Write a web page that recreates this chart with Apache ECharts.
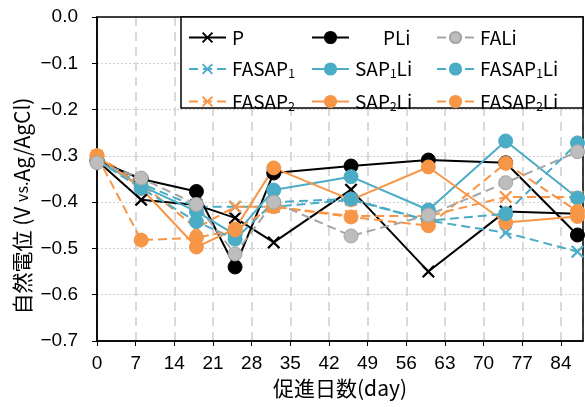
<!DOCTYPE html>
<html>
<head>
<meta charset="utf-8">
<script src="https://cdn.jsdelivr.net/npm/echarts@6/dist/echarts.min.js"></script>
<style>
  html, body { margin: 0; padding: 0; background: #fff; }
  #chart { width: 585px; height: 407px; }
</style>
</head>
<body>
<div id="chart"></div>
<script>
// Measurement days and natural potential readings (V vs. Ag/AgCl)
const days = [0, 8, 18, 25, 32, 46, 60, 74, 87];
const P        = [-0.31, -0.395, -0.406, -0.434, -0.487, -0.373, -0.55, -0.42, -0.425];
const FASAP1   = [-0.31, -0.36, -0.41, -0.41, -0.41, -0.395, -0.44, -0.466, -0.507];
const FASAP2   = [-0.30, -0.36, -0.456, -0.41, -0.41, -0.43, -0.43, -0.389, -0.389];
const PLi      = [-0.31, -0.35, -0.377, -0.54, -0.337, -0.322, -0.309, -0.315, -0.471];
const SAP1Li   = [-0.31, -0.365, -0.42, -0.47, -0.374, -0.345, -0.417, -0.268, -0.391];
const SAP2Li   = [-0.30, -0.37, -0.497, -0.458, -0.326, -0.395, -0.324, -0.444, -0.431];
const FALi     = [-0.315, -0.348, -0.405, -0.512, -0.40, -0.473, -0.428, -0.358, -0.291];
const FASAP1Li = [-0.31, -0.37, -0.442, -0.48, -0.40, -0.393, -0.44, -0.425, -0.272];
const FASAP2Li = [-0.30, -0.482, -0.477, -0.46, -0.41, -0.432, -0.451, -0.316, -0.42];

const xTicks = [0, 7, 14, 21, 28, 35, 42, 49, 56, 63, 70, 77, 84];
const yTicks = [0, -0.1, -0.2, -0.3, -0.4, -0.5, -0.6, -0.7];

const BLACK = '#000000', BLUE = '#4BACC6', ORANGE = '#F79646', GRAY = '#A5A5A5', GRAYFILL = '#BDBDBD';
const CROSS = 'path://M0,12L12,0L50,38L88,0L100,12L62,50L100,88L88,100L50,62L12,100L0,88L38,50Z';
const FONT = '"Noto Sans CJK JP", "Noto Sans", sans-serif';

function pairs(vals) { return days.map((d, i) => [d, vals[i]]); }

function mk(name, vals, color, dashed, marker, fill) {
  const isCross = marker === 'cross';
  return {
    name: name,
    type: 'line',
    data: pairs(vals),
    symbol: isCross ? CROSS : 'circle',
    symbolSize: isCross ? 13 : 14,
    showSymbol: true,
    z: 3,
    lineStyle: { color: color, width: 2, type: dashed ? [9, 5] : 'solid' },
    itemStyle: { color: fill || color, borderColor: color, borderWidth: isCross ? 0 : 1 },
    emphasis: { disabled: true },
    animation: false
  };
}

const series = [
  mk('P', P, BLACK, false, 'cross'),
  mk('FASAP1', FASAP1, BLUE, true, 'cross'),
  mk('FASAP2', FASAP2, ORANGE, true, 'cross'),
  mk('PLi', PLi, BLACK, false, 'circle'),
  mk('SAP1Li', SAP1Li, BLUE, false, 'circle'),
  mk('SAP2Li', SAP2Li, ORANGE, false, 'circle'),
  mk('FASAP1Li', FASAP1Li, BLUE, true, 'circle'),
  mk('FASAP2Li', FASAP2Li, ORANGE, true, 'circle'),
  mk('FALi', FALi, GRAY, true, 'circle', GRAYFILL)
];

const legendLabels = {
  'P': 'P',
  'PLi': '{pad|PLi}',
  'FALi': 'FALi',
  'FASAP1': 'FASAP{s|1}',
  'SAP1Li': 'SAP{s|1}Li',
  'FASAP1Li': 'FASAP{s|1}Li',
  'FASAP2': 'FASAP{s|2}',
  'SAP2Li': 'SAP{s|2}Li',
  'FASAP2Li': 'FASAP{s|2}Li'
};

function legendCol(names, left) {
  return {
    data: names,
    orient: 'vertical',
    left: left,
    top: 28,
    padding: 0,
    itemWidth: 37,
    itemHeight: 14,
    itemGap: 12.5,
    selectedMode: false,
    z: 20,
    formatter: n => legendLabels[n],
    textStyle: {
      fontSize: 19, fontFamily: FONT, color: '#000', padding: [0, 0, 0, 1],
      rich: {
        s: { fontSize: 12, fontFamily: FONT, color: '#000', verticalAlign: 'bottom', padding: [9, 0, 0, 0] },
        pad: { fontSize: 19, fontFamily: FONT, color: '#000', padding: [0, 0, 0, 28] }
      }
    }
  };
}

const chart = echarts.init(document.getElementById('chart'), null, { renderer: 'canvas' });
chart.setOption({
  animation: false,
  backgroundColor: '#fff',
  grid: { left: 97, right: 2, top: 17, bottom: 66, show: false },
  xAxis: {
    type: 'value', min: 0, max: 88, interval: 7,
    name: '促進日数(day)', nameLocation: 'middle', nameGap: 36,
    nameTextStyle: { fontSize: 21, fontFamily: FONT, color: '#000' },
    axisLine: { show: true, onZero: false, lineStyle: { color: '#000', width: 1.5 } },
    axisTick: { show: true, inside: false, length: 5, lineStyle: { color: '#000', width: 1 } },
    axisLabel: { fontSize: 19, fontFamily: '"Liberation Sans", Arial, sans-serif', color: '#000', margin: 13, showMaxLabel: false,
      formatter: v => (xTicks.indexOf(v) >= 0 ? String(v) : '') },
    splitLine: { show: true, lineStyle: { color: '#D9D9D9', width: 2, type: [9, 6] } }
  },
  yAxis: {
    type: 'value', min: -0.7, max: 0, interval: 0.1,
    axisLine: { show: true, onZero: false, lineStyle: { color: '#000', width: 1.5 } },
    axisTick: { show: true, inside: false, length: 5, lineStyle: { color: '#000', width: 1 } },
    axisLabel: { fontSize: 19, fontFamily: '"Liberation Sans", Arial, sans-serif', color: '#000', margin: 19,
      formatter: v => {
        const r = Math.round(v * 10) / 10;
        if (yTicks.indexOf(r) < 0) return '';
        return r === 0 ? '0.0' : '\u2212' + Math.abs(r).toFixed(1);
      } },
    splitLine: { show: true, lineStyle: { color: '#D0D0D0', width: 1, type: [2, 2] } }
  },
  legend: [
    legendCol(['P', 'FASAP1', 'FASAP2'], 188),
    legendCol(['PLi', 'SAP1Li', 'SAP2Li'], 311),
    legendCol(['FALi', 'FASAP1Li', 'FASAP2Li'], 436)
  ],
  graphic: [
    {
      // plot frame, above the grid lines and below the data
      type: 'rect', z: 2, silent: true,
      shape: { x: 97, y: 17, width: 486, height: 324 },
      style: { fill: 'none', stroke: '#000', lineWidth: 1.5 }
    },
    {
      type: 'rect', z: 15, silent: true,
      shape: { x: 181, y: 17, width: 402, height: 91 },
      style: { fill: '#fff', stroke: '#000', lineWidth: 1.5 }
    },
    {
      type: 'text', z: 15, silent: true,
      x: 22, y: 206, rotation: Math.PI / 2,
      style: {
        text: '自然電位 (V {v|vs.}Ag/AgCl)',
        fontSize: 21, fontFamily: FONT, fill: '#000',
        align: 'center', verticalAlign: 'middle',
        rich: { v: { fontSize: 16, fontFamily: FONT, fill: '#000' } }
      }
    }
  ],
  series: series
});
</script>
</body>
</html>
